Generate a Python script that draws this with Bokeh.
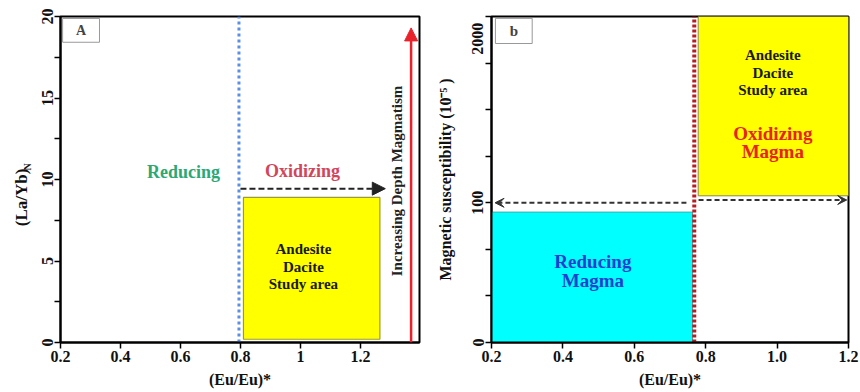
import math
from bokeh.plotting import figure
from bokeh.layouts import row
from bokeh.models import FixedTicker, Arrow, NormalHead, VeeHead, Label
from bokeh.core.properties import value
from bokeh.embed import file_html
from bokeh.resources import INLINE

FONT = "Liberation Serif"

# ---------------- Panel A data ----------------
a_x_ticks = [0.2, 0.4, 0.6, 0.8, 1.0, 1.2]
a_x_labels = ["0.2", "0.4", "0.6", "0.8", "1", "1.2"]
a_y_ticks = [0, 5, 10, 15, 20]
a_y_minor = [2.5, 7.5, 12.5, 17.5]
a_divider_x = [0.795, 0.795]
a_divider_y = [0, 20]
a_box_left = [0.81]
a_box_right = [1.265]
a_box_bottom = [0.2]
a_box_top = [8.9]
a_dash_arrow = [0.8, 9.44, 1.283, 9.44]      # x0, y0, x1, y1
a_depth_arrow = [1.369, 0.0, 1.369, 19.3]    # x0, y0, x1, y1
a_tag_box = [0.207, 0.33, 18.42, 19.88]      # left, right, bottom, top
a_region_text = ["Reducing", "Oxidizing"]
a_region_x = [0.61, 1.007]
a_region_y = [10.46, 10.52]
a_area_text = ["Andesite", "Dacite", "Study area"]
a_area_x = [1.01, 1.01, 1.01]
a_area_y = [5.71, 4.62, 3.59]

# ---------------- Panel b data ----------------
b_x_ticks = [0.2, 0.4, 0.6, 0.8, 1.0, 1.2]
b_x_labels = ["0.2", "0.4", "0.6", "0.8", "1.0", "1.2"]
# broken magnetic-susceptibility axis: positions in axis units, labels in 10^-5
b_y_ticks = [0, 3, 6.52]
b_y_labels = ["0", "100", "2000"]
b_y_minor = [0, 1, 2, 3, 4, 5, 6, 7]
b_reduce_box = [0.2, 0.763, 0.0, 2.80]       # left, right, bottom, top
b_oxid_box = [0.779, 1.2, 3.15, 7.0]
b_divider_x = [0.768, 0.768]
b_divider_y = [0, 7]
b_left_arrow = [0.746, 3.0, 0.21, 3.0]
b_right_arrow = [0.78, 3.06, 1.195, 3.06]
b_tag_box = [0.211, 0.314, 6.42, 6.96]
b_area_text = ["Andesite", "Dacite", "Study area"]
b_area_x = [0.988, 0.988, 0.988]
b_area_y = [6.18, 5.79, 5.42]
b_oxid_text = ["Oxidizing", "Magma"]
b_oxid_x = [0.988, 0.988]
b_oxid_y = [4.49, 4.10]
b_red_text = ["Reducing", "Magma"]
b_red_x = [0.484, 0.484]
b_red_y = [1.73, 1.34]


def style_axes(p):
    p.grid.visible = False
    p.outline_line_color = "black"
    p.outline_line_width = 2
    p.outline_line_alpha = 1
    for ax in (p.xaxis[0], p.yaxis[0]):
        ax.axis_line_width = 2
        ax.axis_line_color = "black"
        ax.major_tick_line_width = 1.5
        ax.minor_tick_line_width = 1.5
        ax.major_tick_in = 0
        ax.minor_tick_in = 0
        ax.major_tick_out = 6
        ax.minor_tick_out = 6
        ax.major_label_text_font = FONT
        ax.major_label_text_font_style = "bold"
        ax.major_label_text_font_size = "16px"
        ax.major_label_text_color = "#111111"
        ax.major_label_standoff = 2
        ax.axis_label_text_font = FONT
        ax.axis_label_text_font_style = "bold"
        ax.axis_label_text_font_size = "16px"
        ax.axis_label_text_color = "#111111"
    p.yaxis[0].major_label_orientation = "vertical"
    p.xaxis[0].axis_label = "(Eu/Eu)*"
    p.xaxis[0].axis_label_standoff = 6


def lbl(p, x, y, text, size, color="#111111", angle=0.0):
    p.add_layout(Label(x=x, y=y, text=text, text_font=FONT, text_font_style="bold",
                       text_font_size=size, text_color=color, text_align="center",
                       text_baseline="middle", angle=angle))


H = 392

# ---------------- Figure A ----------------
p1 = figure(width=396, height=H, x_range=(0.2, 1.397), y_range=(0, 20),
            output_backend="svg", toolbar_location=None,
            min_border_left=26, min_border_right=11, min_border_top=16, min_border_bottom=50)
style_axes(p1)
p1.xaxis[0].ticker = FixedTicker(ticks=a_x_ticks)
p1.xaxis[0].major_label_overrides = {t: s for t, s in zip(a_x_ticks, a_x_labels)}
p1.yaxis[0].ticker = FixedTicker(ticks=a_y_ticks, minor_ticks=a_y_minor)

p1.quad(left=a_box_left, right=a_box_right, bottom=a_box_bottom, top=a_box_top,
        fill_color="#ffff00", line_color="#9a9a3a", line_width=1.2)
p1.line(a_divider_x, a_divider_y, line_color="#5b8ee6", line_width=3, line_dash="3 3")
p1.add_layout(Arrow(end=NormalHead(size=13, fill_color="#222222", line_color="#222222"),
                    x_start=a_dash_arrow[0], y_start=a_dash_arrow[1],
                    x_end=a_dash_arrow[2], y_end=a_dash_arrow[3],
                    line_color="#222222", line_width=2, line_dash="6 3"))
p1.add_layout(Arrow(end=NormalHead(size=13, fill_color="#e8222b", line_color="#e8222b"),
                    x_start=a_depth_arrow[0], y_start=a_depth_arrow[1],
                    x_end=a_depth_arrow[2], y_end=a_depth_arrow[3],
                    line_color="#e8222b", line_width=2.5))
p1.quad(left=[a_tag_box[0]], right=[a_tag_box[1]], bottom=[a_tag_box[2]], top=[a_tag_box[3]],
        fill_color="white", line_color="#999999", line_width=1)
p1.text(x=[(a_tag_box[0] + a_tag_box[1]) / 2], y=[(a_tag_box[2] + a_tag_box[3]) / 2], text=["A"],
        text_font=value(FONT), text_font_style="bold", text_font_size="14px",
        text_color="#444444", text_align="center", text_baseline="middle")
p1.text(x=a_region_x, y=a_region_y, text=a_region_text,
        text_font=value(FONT), text_font_style="bold", text_font_size="18px",
        text_color=["#2aa876", "#d2455a"], text_align="center", text_baseline="middle")
p1.text(x=a_area_x, y=a_area_y, text=a_area_text,
        text_font=value(FONT), text_font_style="bold", text_font_size="15px",
        text_color="#1a1a1a", text_align="center", text_baseline="middle")
lbl(p1, 1.323, 9.91, "Increasing Depth Magmatism", "15px", "#222222", math.pi / 2)

# ---------------- y-axis title strip for panel A (subscript N), shares A's y scale ----------------
ytitle = figure(width=34, height=H, x_range=(0, 34), y_range=p1.y_range,
                output_backend="svg", toolbar_location=None, min_border=0,
                x_axis_type=None, y_axis_type=None, outline_line_color=None)
ytitle.grid.visible = False
ytitle.text(x=[21], y=[8.9], text=["(La/Yb)"], angle=math.pi / 2,
            text_font=value(FONT), text_font_style="bold", text_font_size="17px",
            text_color="#111111", text_align="center", text_baseline="middle")
ytitle.text(x=[27], y=[10.78], text=["N"], angle=math.pi / 2,
            text_font=value(FONT), text_font_style="bold", text_font_size="10px",
            text_color="#111111", text_align="center", text_baseline="middle")

# ---------------- Figure b ----------------
p2 = figure(width=430, height=H, x_range=(0.2, 1.2), y_range=(0, 7),
            output_backend="svg", toolbar_location=None,
            min_border_left=61, min_border_right=12, min_border_top=16, min_border_bottom=50)
style_axes(p2)
p2.xaxis[0].ticker = FixedTicker(ticks=b_x_ticks)
p2.xaxis[0].major_label_overrides = {t: s for t, s in zip(b_x_ticks, b_x_labels)}
p2.yaxis[0].ticker = FixedTicker(ticks=b_y_ticks, minor_ticks=b_y_minor)
p2.yaxis[0].major_label_overrides = {t: s for t, s in zip(b_y_ticks, b_y_labels)}
p2.yaxis[0].major_tick_line_color = None
p2.yaxis[0].axis_label = "Magnetic susceptibility (10\u207b\u2075 )"
p2.yaxis[0].axis_label_standoff = 16

p2.quad(left=[b_reduce_box[0]], right=[b_reduce_box[1]], bottom=[b_reduce_box[2]], top=[b_reduce_box[3]],
        fill_color="#00ffff", line_color="#44aaaa", line_width=1)
p2.quad(left=[b_oxid_box[0]], right=[b_oxid_box[1]], bottom=[b_oxid_box[2]], top=[b_oxid_box[3]],
        fill_color="#ffff00", line_color="#888855", line_width=1)
p2.line(b_divider_x, b_divider_y, line_color="#b51f24", line_width=4, line_dash="3 2")
for arr in (b_left_arrow, b_right_arrow):
    p2.add_layout(Arrow(end=VeeHead(size=9, fill_color="#333333", line_color="#333333"),
                        x_start=arr[0], y_start=arr[1], x_end=arr[2], y_end=arr[3],
                        line_color="#333333", line_width=2, line_dash="5 3"))
p2.quad(left=[b_tag_box[0]], right=[b_tag_box[1]], bottom=[b_tag_box[2]], top=[b_tag_box[3]],
        fill_color="white", line_color="#999999", line_width=1)
p2.text(x=[(b_tag_box[0] + b_tag_box[1]) / 2], y=[(b_tag_box[2] + b_tag_box[3]) / 2], text=["b"],
        text_font=value(FONT), text_font_style="bold", text_font_size="15px",
        text_color="#444444", text_align="center", text_baseline="middle")
p2.text(x=b_area_x, y=b_area_y, text=b_area_text,
        text_font=value(FONT), text_font_style="bold", text_font_size="15px",
        text_color="#1a1a1a", text_align="center", text_baseline="middle")
p2.text(x=b_oxid_x, y=b_oxid_y, text=b_oxid_text,
        text_font=value(FONT), text_font_style="bold", text_font_size="19px",
        text_color="#e8231e", text_align="center", text_baseline="middle")
p2.text(x=b_red_x, y=b_red_y, text=b_red_text,
        text_font=value(FONT), text_font_style="bold", text_font_size="19px",
        text_color="#1f3fd0", text_align="center", text_baseline="middle")

layout = row(ytitle, p1, p2)
open("out.html", "w").write(file_html(layout, INLINE))
